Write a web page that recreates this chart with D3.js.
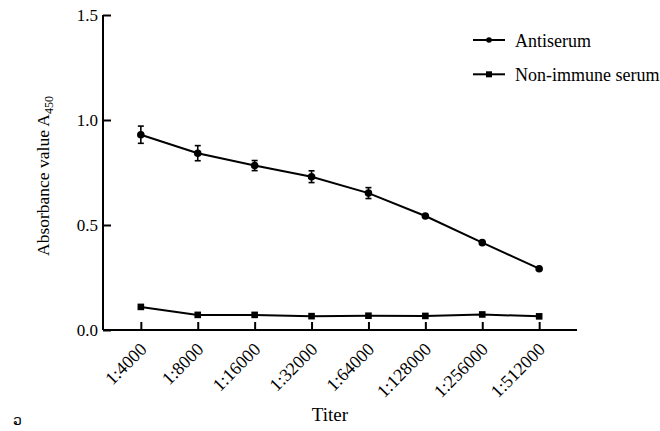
<!DOCTYPE html>
<html><head><meta charset="utf-8">
<script src="https://cdn.jsdelivr.net/npm/d3@7"></script>
<style>body{margin:0;background:#fff}svg{display:block}svg text{font-family:"Liberation Serif","Times New Roman","DejaVu Serif",serif;fill:#000}</style>
</head><body><svg id="c" width="660" height="431"></svg>
<script>
const categories = ["1:4000","1:8000","1:16000","1:32000","1:64000","1:128000","1:256000","1:512000"];
const antiserum = [0.930,0.842,0.783,0.730,0.652,0.543,0.416,0.292];
const antiserumErr = [0.041,0.036,0.024,0.028,0.026,0.008,0.006,0.006];
const nonImmune = [0.110,0.072,0.072,0.066,0.068,0.067,0.074,0.065];
const nonImmuneErr = [0.004,0.003,0.003,0.003,0.003,0.003,0.003,0.003];
const yTicks = [0,0.5,1.0,1.5];
const seriesNames = ["Antiserum","Non-immune serum"];

const svg = d3.select("#c");
const L=103,R=577,T=15,B=330;
const x = d3.scalePoint().domain(categories).range([L,R]).padding(0.665);
const y = d3.scaleLinear().domain([0,1.5]).range([B,T]);

// axes
const yAxis = svg.append("g").attr("transform",`translate(${L},0)`)
  .call(d3.axisLeft(y).tickValues(yTicks).tickFormat(d3.format(".1f")).tickSizeInner(-8).tickSizeOuter(0).tickPadding(5));
const xAxis = svg.append("g").attr("transform",`translate(0,${B})`)
  .call(d3.axisBottom(x).tickSizeInner(-8).tickSizeOuter(0).tickPadding(6));
[yAxis,xAxis].forEach(g=>{
  g.attr("font-family",null);
  g.select(".domain").attr("stroke","#000").attr("stroke-width",2);
  g.selectAll(".tick line").attr("stroke","#000").attr("stroke-width",2);
  g.selectAll("text").attr("font-size",17).attr("fill","#000");
});
xAxis.select(".domain").attr("d",`M${L},0H${R}`);
yAxis.select(".domain").attr("d",`M0,${T}V${B}`);
yAxis.selectAll(".tick text").attr("x",-5).attr("dy","0.35em");
xAxis.selectAll(".tick text").attr("text-anchor","end").attr("font-size",18)
  .attr("y",0).attr("dy","0.35em").attr("transform","translate(2,16) rotate(-45)");

// lines
const line = d3.line().x((d,i)=>x(categories[i])).y(d=>y(d));
[antiserum,nonImmune].forEach(s=>{
  svg.append("path").attr("d",line(s)).attr("fill","none").attr("stroke","#000").attr("stroke-width",2);
});
// error bars
function errs(vals,err){
  const g=svg.append("g").attr("stroke","#000").attr("stroke-width",1.6);
  vals.forEach((v,i)=>{
    const cx=x(categories[i]), y1=y(v+err[i]), y2=y(v-err[i]);
    if (y2-y1<6) return;
    g.append("line").attr("x1",cx).attr("x2",cx).attr("y1",y1).attr("y2",y2);
    g.append("line").attr("x1",cx-3).attr("x2",cx+3).attr("y1",y1).attr("y2",y1);
    g.append("line").attr("x1",cx-3).attr("x2",cx+3).attr("y1",y2).attr("y2",y2);
  });
}
errs(antiserum,antiserumErr);
errs(nonImmune,nonImmuneErr);
// markers
svg.append("g").selectAll("circle").data(antiserum).join("circle")
  .attr("cx",(d,i)=>x(categories[i])).attr("cy",d=>y(d)).attr("r",3.8).attr("fill","#000");
svg.append("g").selectAll("rect").data(nonImmune).join("rect")
  .attr("x",(d,i)=>x(categories[i])-3.3).attr("y",d=>y(d)-3.3).attr("width",6.6).attr("height",6.6).attr("fill","#000");

// legend
const lg = svg.append("g");
seriesNames.forEach((n,i)=>{
  const ly = 40 + i*34.3;
  lg.append("line").attr("x1",473).attr("x2",505).attr("y1",ly).attr("y2",ly).attr("stroke","#000").attr("stroke-width",2);
  if(i===0) lg.append("circle").attr("cx",489).attr("cy",ly).attr("r",2.8).attr("fill","#000");
  else lg.append("rect").attr("x",486).attr("y",ly-3).attr("width",6).attr("height",6).attr("fill","#000");
  lg.append("text").attr("x",515).attr("y",ly+6.5).attr("font-size",18).text(n);
});

// axis titles
svg.append("text").attr("x",330).attr("y",421).attr("text-anchor","middle").attr("font-size",19).text("Titer");
const yt = svg.append("text").attr("transform","translate(49,176) rotate(-90)").attr("text-anchor","middle").attr("font-size",17.5);
yt.append("tspan").text("Absorbance value A");
yt.append("tspan").attr("font-size",12).attr("dy",4).text("450");
svg.append("text").attr("x",13).attr("y",425).style("font-family","'DejaVu Sans'").attr("font-size",14).text("ວ");
</script></body></html>
